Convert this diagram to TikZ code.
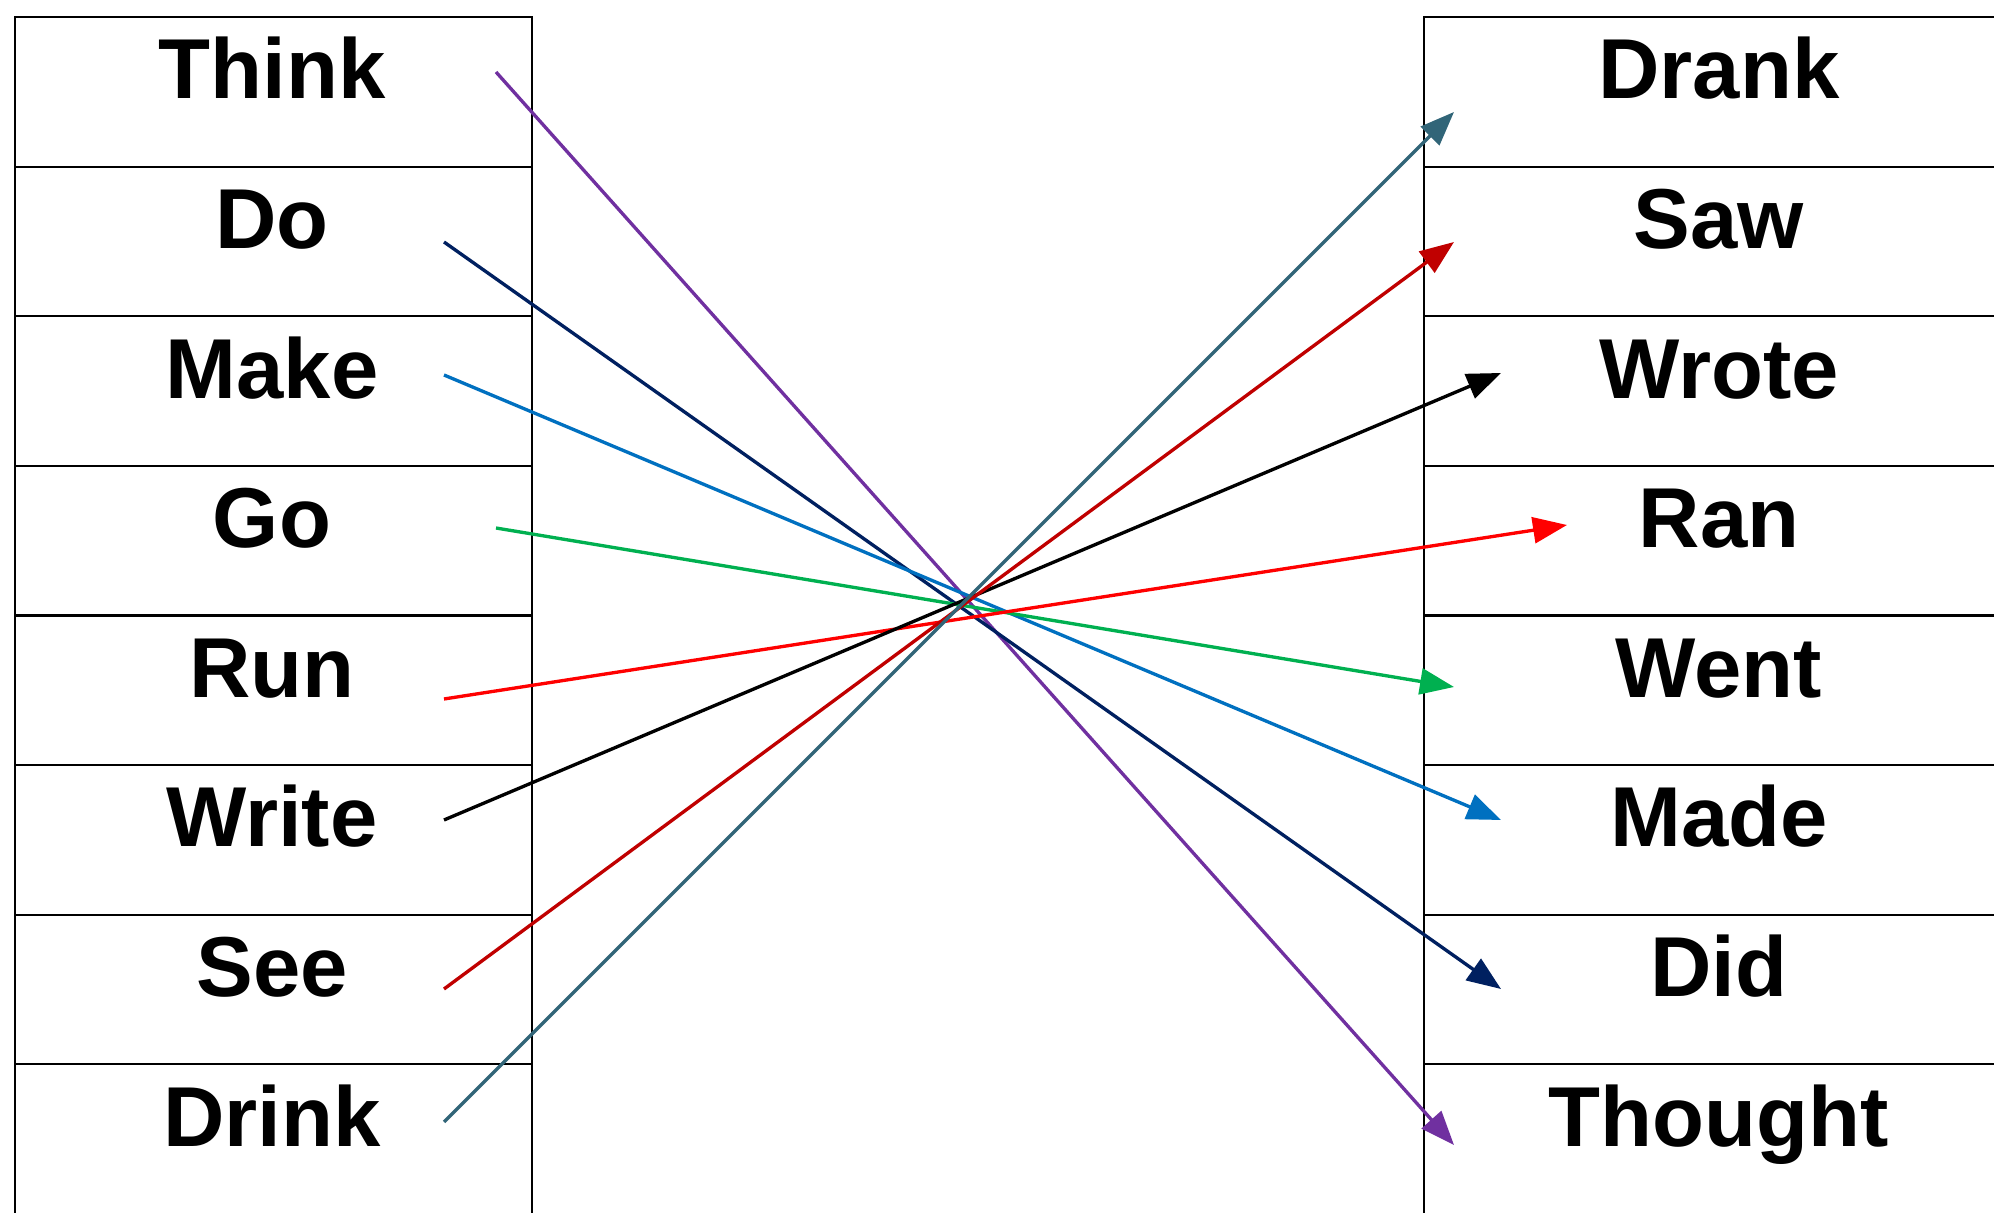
\documentclass[tikz,border=0pt]{standalone}
\usepackage{fontspec}
\setmainfont{Liberation Sans}
\usetikzlibrary{arrows.meta}
\definecolor{ThinkColour}{RGB}{112,48,160}
\definecolor{DoColour}{RGB}{0,32,96}
\definecolor{MakeColour}{RGB}{0,112,192}
\definecolor{GoColour}{RGB}{0,176,80}
\definecolor{RunColour}{RGB}{255,0,0}
\definecolor{SeeColour}{RGB}{192,0,0}
\definecolor{DrinkColour}{RGB}{49,101,120}

\begin{document}
\begin{tikzpicture}[
  font=\fontsize{24.2}{29}\selectfont\bfseries,
  cell/.style={draw, line width=0.6pt, anchor=north west, minimum height=1.496cm, inner sep=0pt},
  leftcell/.style={cell, minimum width=5.17cm},
  rightcell/.style={cell, minimum width=6.2cm},
  word/.style={anchor=base, inner sep=0pt},
  link/.style={line width=0.95pt, -{Triangle[length=3.4mm, width=2.6mm]}}
]
\useasboundingbox (0,0) rectangle (19.94,-12.13);

% Left column: present tense
\node[leftcell] (c1) at (0.14,-0.16) {};
\node[leftcell] (c2) at (0.14,-1.656) {};
\node[leftcell] (c3) at (0.14,-3.152) {};
\node[leftcell] (c4) at (0.14,-4.648) {};
\node[leftcell] (c5) at (0.14,-6.144) {};
\node[leftcell] (c6) at (0.14,-7.64) {};
\node[leftcell] (c7) at (0.14,-9.136) {};
\node[leftcell, minimum height=1.8cm] (c8) at (0.14,-10.632) {};
\node[word] (think) at (2.72,-0.99) {Think};
\node[word] (do) at (2.72,-2.486) {Do};
\node[word] (make) at (2.72,-3.982) {Make};
\node[word] (go) at (2.72,-5.478) {Go};
\node[word] (run) at (2.72,-6.974) {Run};
\node[word] (write) at (2.72,-8.47) {Write};
\node[word] (see) at (2.72,-9.966) {See};
\node[word] (drink) at (2.72,-11.462) {Drink};

% Right column: past tense
\node[rightcell] (d1) at (14.23,-0.16) {};
\node[rightcell] (d2) at (14.23,-1.656) {};
\node[rightcell] (d3) at (14.23,-3.152) {};
\node[rightcell] (d4) at (14.23,-4.648) {};
\node[rightcell] (d5) at (14.23,-6.144) {};
\node[rightcell] (d6) at (14.23,-7.64) {};
\node[rightcell] (d7) at (14.23,-9.136) {};
\node[rightcell, minimum height=1.8cm] (d8) at (14.23,-10.632) {};
\node[word] (drank) at (17.19,-0.99) {Drank};
\node[word] (saw) at (17.19,-2.486) {Saw};
\node[word] (wrote) at (17.19,-3.982) {Wrote};
\node[word] (ran) at (17.19,-5.478) {Ran};
\node[word] (went) at (17.19,-6.974) {Went};
\node[word] (made) at (17.19,-8.47) {Made};
\node[word] (did) at (17.19,-9.966) {Did};
\node[word] (thought) at (17.19,-11.462) {Thought};

% line ends
\coordinate (think-o) at (4.96,-0.72);
\coordinate (do-o) at (4.44,-2.42);
\coordinate (make-o) at (4.44,-3.75);
\coordinate (go-o) at (4.96,-5.28);
\coordinate (run-o) at (4.44,-6.99);
\coordinate (write-o) at (4.44,-8.20);
\coordinate (see-o) at (4.44,-9.89);
\coordinate (drink-o) at (4.44,-11.22);
\coordinate (drank-i) at (14.54,-1.12);
\coordinate (saw-i) at (14.54,-2.42);
\coordinate (wrote-i) at (15.01,-3.73);
\coordinate (ran-i) at (15.67,-5.25);
\coordinate (went-i) at (14.54,-6.87);
\coordinate (made-i) at (15.01,-8.20);
\coordinate (did-i) at (15.01,-9.89);
\coordinate (thought-i) at (14.54,-11.45);

% Matching arrows
\draw[link, ThinkColour] (think-o) -- (thought-i);
\draw[link, DoColour] (do-o) -- (did-i);
\draw[link, MakeColour] (make-o) -- (made-i);
\draw[link, GoColour] (go-o) -- (went-i);
\draw[link, RunColour] (run-o) -- (ran-i);
\draw[link, black] (write-o) -- (wrote-i);
\draw[link, SeeColour] (see-o) -- (saw-i);
\draw[link, DrinkColour] (drink-o) -- (drank-i);
\end{tikzpicture}
\end{document}
